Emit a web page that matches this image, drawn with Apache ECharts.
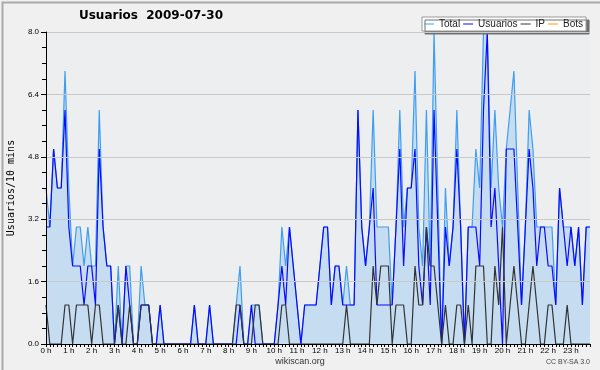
<!DOCTYPE html>
<html>
<head>
<meta charset="utf-8">
<script src="https://cdn.jsdelivr.net/npm/echarts@6/dist/echarts.min.js"></script>
<style>
html,body{margin:0;padding:0;background:#f0f0f0;}
#c{width:600px;height:370px;}
</style>
</head>
<body>
<div id="c"></div>
<script>
// 10-minute slots over the day (144 points)
var hourLabels = ['0 h','1 h','2 h','3 h','4 h','5 h','6 h','7 h','8 h','9 h','10 h','11 h','12 h','13 h','14 h','15 h','16 h','17 h','18 h','19 h','20 h','21 h','22 h','23 h'];
var yTicks = [0, 1.6, 3.2, 4.8, 6.4, 8.0];

var total = [
4,3,5,4,4,7,4,2,3,3,
2,3,2,2,6,3,2,2,0,2,
0,2,2,0,0,2,1,1,0,0,
1,0,0,0,0,0,0,0,0,1,
0,0,0,1,0,0,0,0,0,0,
1,2,0,0,1,1,1,0,0,0,
0,1,3,2,3,2,1,0,1,1,
1,1,2,3,3,1,2,2,1,2,
1,1,6,3,2,3,6,3,3,3,
3,1,3,6,3,4,4,7,3,2,
6,2,8,4,0,4,2,3,6,3,
0,3,3,5,4,8,8,4,6,4,
3,5,6,7,4,1,3,6,5,3,
3,3,3,3,1,4,3,3,3,2,
3,1,3,3];
var usuarios = [
3,3,5,4,4,6,3,2,2,2,
1,2,2,1,5,3,2,2,0,1,
0,2,1,0,0,1,1,1,0,0,
1,0,0,0,0,0,0,0,0,1,
0,0,0,1,0,0,0,0,0,0,
0,1,0,0,1,0,0,0,0,0,
0,1,2,1,3,2,1,0,1,1,
1,1,2,3,3,1,2,2,1,1,
1,1,6,3,2,3,4,1,1,1,
1,1,3,5,2,4,4,5,2,1,
3,1,6,3,0,3,2,3,5,3,
0,3,3,3,2,6,8,3,4,2,
0,5,5,5,3,1,3,5,4,2,
3,3,2,2,1,4,3,2,3,2,
3,1,3,3];
var ip = [
1,0,0,0,0,1,1,0,1,1,
1,1,0,1,1,0,0,0,0,1,
0,0,1,0,0,1,1,1,0,0,
0,0,0,0,0,0,0,0,0,0,
0,0,0,0,0,0,0,0,0,0,
1,1,0,0,0,1,1,0,0,0,
0,0,1,1,0,0,0,0,0,0,
0,0,0,0,0,0,0,0,0,1,
0,0,0,0,0,0,2,1,2,2,
2,0,1,1,1,0,0,2,1,1,
3,2,2,1,0,1,0,0,1,1,
0,1,0,2,2,2,0,0,2,1,
3,0,1,2,1,0,0,1,2,1,
0,0,1,1,0,0,0,1,0,0,
0,0,0,0];
var bots = [
0,0,0,0,0,0,0,0,0,0,0,0,0,0,0,0,0,0,0,0,0,0,0,0,
0,0,0,0,0,0,0,0,0,0,0,0,0,0,0,0,0,0,0,0,0,0,0,0,
0,0,0,0,0,0,0,0,0,0,0,0,0,0,0,0,0,0,0,0,0,0,0,0,
0,0,0,0,0,0,0,0,0,0,0,0,0,0,0,0,0,0,0,0,0,0,0,0,
0,0,0,0,0,0,0,0,0,0,0,0,0,0,0,0,0,0,0,0,0,0,0,0,
0,0,0,0,0,0,0,0,0,0,0,0,0,0,0,0,0,0,0,0,0,0,0,0];

var slots = [];
for (var h = 0; h < 24; h++) {
  for (var m = 0; m < 60; m += 10) {
    slots.push(h + ':' + (m < 10 ? '0' + m : m));
  }
}

var chart = echarts.init(document.getElementById('c'), null, {renderer: 'canvas'});
var FONT = 'Liberation Sans';

function lineSeries(name, data, color, extra) {
  var s = {
    name: name, type: 'line', data: data,
    showSymbol: false, symbol: 'none', animation: false,
    itemStyle: {color: color},
    lineStyle: {color: color, width: 1.2},
    emphasis: {disabled: true}
  };
  for (var k in extra) s[k] = extra[k];
  return s;
}

chart.setOption({
  backgroundColor: '#f0f0f0',
  animation: false,
  grid: {left: 46, right: 10, top: 32, bottom: 26, show: true, backgroundColor: '#edeef0', borderWidth: 0,
         containLabel: false, outerBoundsMode: 'none'},
  legend: {
    left: 422, top: 17,
    padding: [2, 3, 2, 2],
    itemGap: 3, itemWidth: 10, itemHeight: 1,
    icon: 'rect',
    backgroundColor: '#ffffff', borderColor: '#999999', borderWidth: 1,
    shadowColor: '#707070', shadowOffsetX: 3, shadowOffsetY: 3, shadowBlur: 0,
    textStyle: {fontFamily: FONT, fontSize: 10, color: '#222'},
    data: ['Total', 'Usuarios', 'IP', 'Bots']
  },
  xAxis: {
    type: 'category', data: slots, boundaryGap: false, z: 10,
    axisLine: {lineStyle: {color: '#000', width: 1}},
    axisTick: {show: true, interval: 0, length: 3, lineStyle: {color: '#000'}},
    axisLabel: {
      interval: 5, margin: 3, fontFamily: FONT, fontSize: 8, color: '#000',
      formatter: function (v, idx) { return idx % 6 === 0 ? hourLabels[idx / 6] : ''; }
    },
    splitLine: {show: false}
  },
  yAxis: {
    type: 'value', min: yTicks[0], max: yTicks[yTicks.length - 1], interval: 1.6, z: 10,
    name: 'Usuarios/10 mins', nameLocation: 'middle', nameGap: 30, nameRotate: 90,
    nameTextStyle: {fontFamily: 'DejaVu Sans Mono', fontSize: 10, color: '#000'},
    axisLine: {show: true, lineStyle: {color: '#000', width: 1}},
    axisTick: {show: true, length: 5, lineStyle: {color: '#000'}},
    minorTick: {show: true, splitNumber: 4, length: 4, lineStyle: {color: '#000'}},
    axisLabel: {margin: 7, fontFamily: FONT, fontSize: 8, color: '#000',
      formatter: function (v) { return v.toFixed(1); }},
    splitLine: {show: true, lineStyle: {color: '#c8c8c8', width: 1}}
  },
  series: [
    lineSeries('Total', total, '#3d9ef2', {areaStyle: {color: '#c6dcf0', opacity: 1}}),
    lineSeries('Usuarios', usuarios, '#0a0aff', {}),
    lineSeries('IP', ip, '#333333', {}),
    lineSeries('Bots', bots, '#ff9a00', {z: 1})
  ],
  graphic: [
    {type: 'rect', left: 0, top: 0, z: 100, silent: true,
     shape: {x: 0, y: 0, width: 599, height: 369},
     style: {fill: null, stroke: '#aaaaaa', lineWidth: 2}},
    {type: 'text', x: 151, y: 16, z: 100,
     style: {text: 'Usuarios  2009-07-30', fill: '#000', font: 'bold 12px "DejaVu Sans"', textAlign: 'center', textVerticalAlign: 'middle'}},
    {type: 'text', x: 300, y: 362, z: 100,
     style: {text: 'wikiscan.org', fill: '#333', font: '9px "Liberation Sans"', textAlign: 'center', textVerticalAlign: 'middle'}},
    {type: 'text', x: 590, y: 362, z: 100,
     style: {text: 'CC BY-SA 3.0', fill: '#444', font: '7px "Liberation Sans"', textAlign: 'right', textVerticalAlign: 'middle'}}
  ]
});
</script>
</body>
</html>
